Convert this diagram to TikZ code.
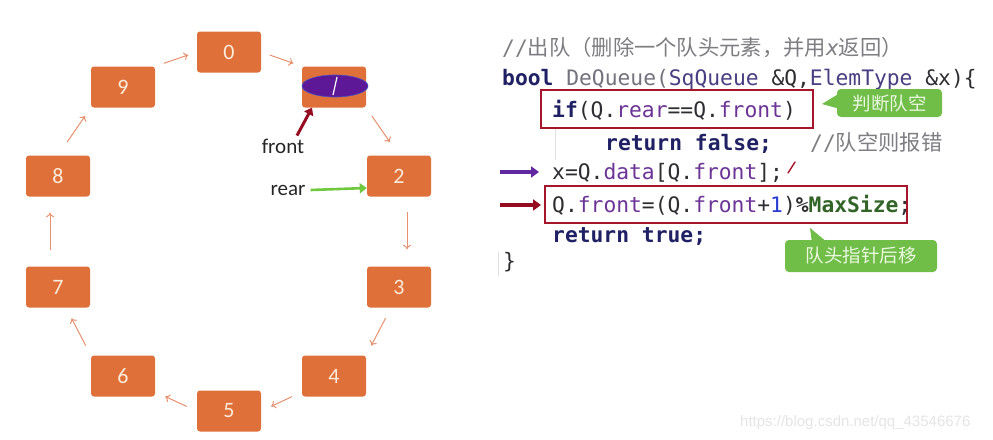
\documentclass[tikz,border=0pt]{standalone}
\usepackage{fontspec}
\setmainfont{Carlito}
\setmonofont{DejaVu Sans Mono}
\newfontfamily\cjk{Noto Sans CJK SC}
\newfontfamily\urlfont{Liberation Sans}
\usetikzlibrary{arrows.meta,shapes.geometric}
\definecolor{boxor}{RGB}{224,112,58}
\definecolor{boxtx}{RGB}{253,236,218}
\definecolor{ringar}{RGB}{230,145,112}
\definecolor{ellfill}{RGB}{92,24,150}
\definecolor{ellbd}{RGB}{70,80,200}
\definecolor{frontar}{RGB}{150,12,32}
\definecolor{rearar}{RGB}{112,200,62}
\definecolor{kw}{RGB}{32,32,100}
\definecolor{fn}{RGB}{115,115,125}
\definecolor{ty}{RGB}{72,62,130}
\definecolor{fd}{RGB}{108,52,150}
\definecolor{txt}{RGB}{45,45,50}
\definecolor{cmt}{RGB}{125,125,130}
\definecolor{num}{RGB}{40,60,210}
\definecolor{grn}{RGB}{50,100,40}
\definecolor{redbd}{RGB}{165,22,42}
\definecolor{callg}{RGB}{112,190,72}
\definecolor{calltx}{RGB}{236,248,226}
\definecolor{purar}{RGB}{98,40,160}
\begin{document}
\begin{tikzpicture}[x=1pt,y=-1pt,
  qbox/.style={fill=boxor,rounded corners=3pt,minimum width=64pt,minimum height=41pt,inner sep=0pt,
    text=boxtx,font=\fontsize{22}{24}\selectfont},
  ring/.style={draw=ringar,line width=1pt,-{To[length=4.5pt,width=8pt]},shorten <=10pt,shorten >=10pt},
  code/.style={anchor=base west,inner sep=0pt,text=txt,font=\ttfamily\fontsize{21.3}{25}\selectfont},
  lbl/.style={inner sep=0pt,text=black!85,font=\fontsize{21}{24}\selectfont},
  redbox/.style={draw=redbd,line width=1.6pt},
  callout/.style={fill=callg,rounded corners=4pt,inner sep=0pt,text=calltx,font=\cjk\fontsize{18.5}{20}\selectfont},
  thickar/.style={line width=3pt,-{Triangle[length=7pt,width=10pt]}}
]
\useasboundingbox (0,0) rectangle (993,439);
\fill[white] (0,0) rectangle (993,439);

% ring of boxes
\node[qbox] (b0) at (229,52) {0};
\node[qbox] (b1) at (334,87) {};
\node[qbox] (b2) at (399,176) {2};
\node[qbox] (b3) at (399,287) {3};
\node[qbox] (b4) at (334,376) {4};
\node[qbox] (b5) at (229,411) {5};
\node[qbox] (b6) at (123,376) {6};
\node[qbox] (b7) at (58,287) {7};
\node[qbox] (b8) at (58,176) {8};
\node[qbox] (b9) at (123,87) {9};

% element being removed
\node[ellipse,draw=ellbd,line width=0.6pt,fill=ellfill,minimum width=66pt,minimum height=22pt,inner sep=0pt] (el) at (335,86) {};
\draw[white,line width=1.2pt] ([xshift=2pt,yshift=9pt]el.center) -- ([xshift=-2pt,yshift=-9pt]el.center);

% ring connectors
\draw[ring,shorten <=9pt,shorten >=9pt] (b0.east) -- (b1.north west);
\draw[ring,shorten <=10pt,shorten >=16pt] (b1.south east) -- (b2.north);
\draw[ring,shorten <=15pt,shorten >=17pt] ([xshift=8pt]b2.south) -- ([xshift=8pt]b3.north);
\draw[ring,shorten <=12pt,shorten >=11pt] ([xshift=-8pt]b3.south) -- (b4.north east);
\draw[ring,shorten <=11pt,shorten >=11pt] ([yshift=-16pt]b4.west) -- (b5.east);
\draw[ring,shorten <=11pt,shorten >=11pt] (b5.west) -- ([yshift=-16pt]b6.east);
\draw[ring,shorten <=11pt,shorten >=12pt] (b6.north west) -- ([xshift=8pt]b7.south);
\draw[ring,shorten <=16pt,shorten >=16pt] ([xshift=-8pt]b7.north) -- ([xshift=-8pt]b8.south);
\draw[ring,shorten <=16pt,shorten >=10pt] (b8.north) -- (b9.south west);
\draw[ring,shorten <=9pt,shorten >=9pt] (b9.north east) -- (b0.west);

% front / rear pointers
\node[lbl] (front) at (283,146) {front};
\node[lbl] (rear) at (288,190) {rear};
\draw[thickar,frontar] ([xshift=14pt,yshift=3pt]front.north) -- ([xshift=-22pt]b1.south);
\draw[thickar,rearar,line width=2.6pt] (rear.east) ++(5pt,0) coordinate (rs) (rs) -- ([yshift=-12pt]b2.west);

% code
\node[code] (l1) at (502,55) {\color{cmt}//{\cjk 出队（删除一个队头元素，并用}{\itshape x}{\cjk 返回）}};
\node[code] (l2) at (502,85) {\textbf{\color{kw}bool} {\color{fn}DeQueue(}{\color{ty}SqQueue} \&Q,{\color{ty}ElemType} \&x)\{};
\node[code] (l3) at (552,117) {\textbf{\color{kw}if}(Q.{\color{fd}rear}==Q.{\color{fd}front})};
\node[code] (l4) at (605,150) {\textbf{\color{kw}return false;}};
\node[code] (l4c) at (810,150) {\color{cmt}//{\cjk 队空则报错}};
\node[code] (l5) at (552,179) {x=Q.{\color{fd}data}[Q.{\color{fd}front}];};
\node[code] (l6) at (552,212) {Q.{\color{fd}front}=(Q.{\color{fd}front}+{\color{num}1})\textbf{\%\color{grn}MaxSize};};
\node[code] (l7) at (552,242) {\textbf{\color{kw}return true;}};
\node[code] (l8) at (503,268) {\}};

% indentation guides
\draw[black!12,line width=0.8pt] (555,128) -- (555,160);
\draw[black!12,line width=0.8pt] (498,252) -- (498,276);

% small red mark
\draw[redbd,line width=1.4pt,line cap=round] (788,173) -- (795,162);

% red boxes
\draw[redbox] (541,90) rectangle (813,128);
\draw[redbox] (545,186) rectangle (907,223);

% line arrows
\coordinate (pa) at (500,172);
\coordinate (pb) at (539,172);
\coordinate (ra) at (500,205);
\coordinate (rb) at (541,205);
\draw[purar,line width=3.2pt,-{Triangle[length=8pt,width=11pt]}] (pa) -- (pb);
\draw[frontar,line width=3.2pt,-{Triangle[length=8pt,width=11pt]}] (ra) -- (rb);

% callouts
\node[callout,minimum width=105pt,minimum height=28pt] (c1) at (889.5,103) {判断队空};
\fill[callg] (840,93) -- (822,104) -- (840,109) -- cycle;
\node[callout,minimum width=152pt,minimum height=32pt] (c2) at (861,256) {队头指针后移};
\fill[callg] (812,243) -- (810,228) -- (828,243) -- cycle;

% watermark
\node[inner sep=0pt,anchor=base west,text=black!10,font=\urlfont\fontsize{15}{17}\selectfont] (wm) at (740,426) {https://blog.csdn.net/qq\_43546676};
\end{tikzpicture}
\end{document}
